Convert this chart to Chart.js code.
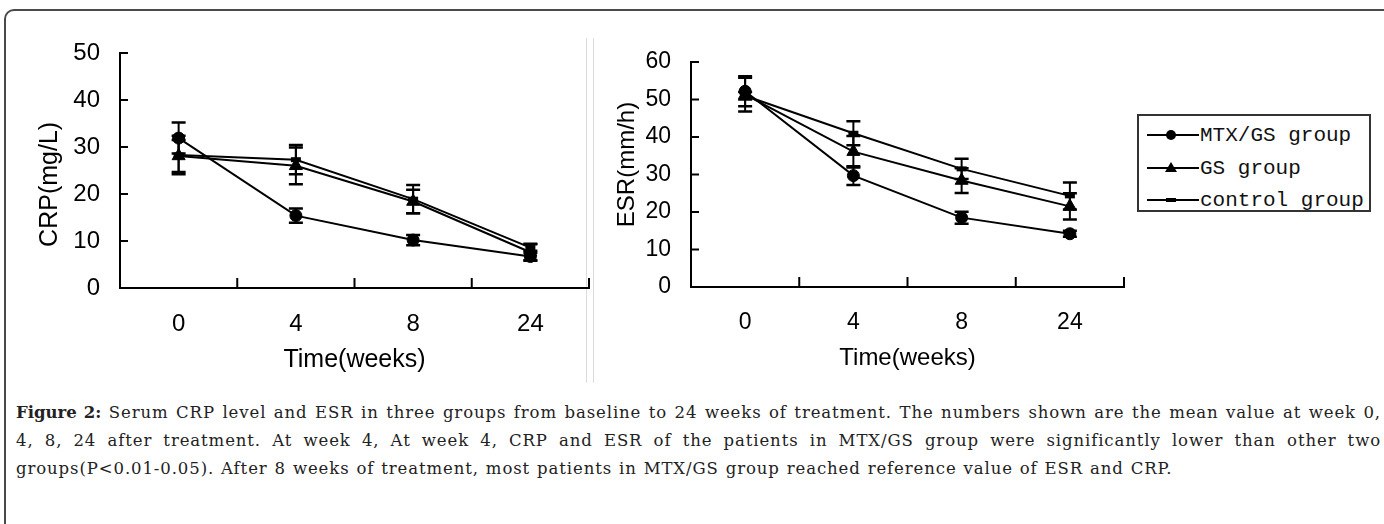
<!DOCTYPE html>
<html>
<head>
<meta charset="utf-8">
<script src="https://cdn.jsdelivr.net/npm/chart.js@4"></script>
<style>
  html, body { margin:0; padding:0; background:#fff; }
  body { width:1384px; height:524px; position:relative; overflow:hidden; }
  #frame { position:absolute; left:4px; top:9px; width:1392px; height:540px; border:2px solid #4a4a4a; border-radius:10px; box-sizing:border-box; }
  .divider { position:absolute; top:38px; height:345px; width:1px; background:#dcdcdc; }
  #c1 { position:absolute; left:0; top:0; }
  #c2 { position:absolute; left:594px; top:0; }
  #legend { position:absolute; left:1137px; top:114px; width:234px; height:98px; border:2px solid #333; box-sizing:border-box; background:#fff; }
  .lrow { position:absolute; left:8px; height:30px; display:flex; align-items:center; }
  .lrow svg { width:52px; height:20px; flex:none; }
  .lrow span { font-family:"Liberation Mono","DejaVu Sans Mono",monospace; font-size:21px; color:#111; margin-left:1px; white-space:pre; }
  #caption { position:absolute; left:16px; top:399px; width:1365px; font-family:"DejaVu Serif",serif; font-size:16.5px; letter-spacing:0.9px; word-spacing:0.8px; line-height:28px; text-align:justify; color:#222; }
  #caption b { font-weight:bold; letter-spacing:0; }
</style>
</head>
<body>
<div id="frame"></div>
<div class="divider" style="left:586px"></div>
<div class="divider" style="left:593px"></div>
<canvas id="c1" width="599" height="390"></canvas>
<canvas id="c2" width="540" height="390"></canvas>
<div id="legend">
  <div class="lrow" style="top:4px"><svg viewBox="0 0 52 20"><line x1="0" y1="10" x2="52" y2="10" stroke="#000" stroke-width="2"/><circle cx="24" cy="10" r="5" fill="#000"/></svg><span>MTX/GS group</span></div>
  <div class="lrow" style="top:37px"><svg viewBox="0 0 52 20"><line x1="0" y1="10" x2="52" y2="10" stroke="#000" stroke-width="2"/><polygon points="24,4 30,14 18,14" fill="#000"/></svg><span>GS group</span></div>
  <div class="lrow" style="top:69px"><svg viewBox="0 0 52 20"><line x1="0" y1="10" x2="52" y2="10" stroke="#000" stroke-width="2"/><rect x="19" y="8" width="10" height="4" fill="#000"/></svg><span>control group</span></div>
</div>
<div id="caption"><b>Figure 2:</b> Serum CRP level and ESR in three groups from baseline to 24 weeks of treatment. The numbers shown are the mean value at week 0, 4, 8, 24 after treatment. At week 4, At week 4, CRP and ESR of the patients in MTX/GS group were significantly lower than other two groups(P&lt;0.01-0.05). After 8 weeks of treatment, most patients in MTX/GS group reached reference value of ESR and CRP.</div>

<script>
// ---- Data ----
const weeks = ['0', '4', '8', '24'];
const seriesNames = ['MTX/GS group', 'GS group', 'control group'];

// CRP (mg/L)
const crpMtx     = [31.9, 15.4, 10.2, 6.7];
const crpMtxErr  = [3.3, 1.5, 1.1, 0.8];
const crpGs      = [28.1, 26.0, 18.4, 7.6];
const crpGsErr   = [3.4, 3.9, 2.5, 1.8];
const crpCtrl    = [28.3, 27.3, 18.9, 8.6];
const crpCtrlErr = [4.1, 3.1, 3.0, 0.7];

// ESR (mm/h)
const esrMtx     = [52.2, 29.7, 18.5, 14.2];
const esrMtxErr  = [4.0, 2.5, 1.6, 0.8];
const esrGs      = [51.3, 36.1, 28.4, 21.5];
const esrGsErr   = [4.5, 4.2, 3.3, 3.5];
const esrCtrl    = [51.0, 41.0, 31.5, 24.3];
const esrCtrlErr = [1.0, 3.2, 2.7, 3.6];

const crpTicks = [0, 10, 20, 30, 40, 50];
const esrTicks = [0, 10, 20, 30, 40, 50, 60];

// ---- Plugins ----
const decorPlugin = {
  id: 'decor',
  afterDatasetsDraw(chart) {
    const ctx = chart.ctx;
    const ys = chart.scales.y, xs = chart.scales.x;
    ctx.save();
    ctx.strokeStyle = '#000';
    // error bars
    chart.data.datasets.forEach((ds, i) => {
      const meta = chart.getDatasetMeta(i);
      ds.errors.forEach((e, j) => {
        const pt = meta.data[j];
        const x = pt.x;
        const yt = ys.getPixelForValue(ds.data[j] + e);
        const yb = ys.getPixelForValue(ds.data[j] - e);
        ctx.lineWidth = 2;
        ctx.beginPath(); ctx.moveTo(x, yt); ctx.lineTo(x, yb); ctx.stroke();
        ctx.lineWidth = 2.5;
        ctx.beginPath();
        ctx.moveTo(x - 7, yt); ctx.lineTo(x + 7, yt);
        ctx.moveTo(x - 7, yb); ctx.lineTo(x + 7, yb);
        ctx.stroke();
      });
    });
    // inward tick marks on y axis
    const area = chart.chartArea;
    ctx.lineWidth = 2;
    ys.ticks.forEach(t => {
      if (t.value === 0) return;
      const py = ys.getPixelForValue(t.value);
      ctx.beginPath(); ctx.moveTo(area.left, py); ctx.lineTo(area.left + 8, py); ctx.stroke();
    });
    // category boundary ticks on x axis
    for (let i = 0; i < chart.data.labels.length; i++) {
      const px = xs.getPixelForValue(i + 0.5);
      ctx.beginPath(); ctx.moveTo(px, area.bottom); ctx.lineTo(px, area.bottom - 10); ctx.stroke();
    }
    ctx.restore();
  }
};

function makeDatasets(vals, errs) {
  const styles = [
    { pointStyle: 'circle', pointRadius: 6, pointBorderWidth: 1 },
    { pointStyle: 'triangle', pointRadius: 7.5, pointBorderWidth: 1 },
    { pointStyle: 'line', pointRadius: 5, pointBorderWidth: 5 }
  ];
  return vals.map((v, i) => Object.assign({
    label: seriesNames[i],
    data: v,
    errors: errs[i],
    borderColor: '#000',
    backgroundColor: '#000',
    pointBackgroundColor: '#000',
    pointBorderColor: '#000',
    borderWidth: 2,
    tension: 0,
    fill: false
  }, styles[i]));
}

function makeChart(id, vals, errs, yMax, tickList, yTitle, cfg) {
  const font = 'Liberation Sans, Arial, sans-serif';
  return new Chart(document.getElementById(id), {
    type: 'line',
    data: { labels: weeks, datasets: makeDatasets(vals, errs) },
    options: {
      responsive: false,
      animation: false,
      events: [],
      layout: { padding: cfg.padding },
      plugins: { legend: { display: false }, tooltip: { enabled: false } },
      scales: {
        x: {
          offset: true,
          grid: { display: false, drawTicks: false },
          border: { display: true, color: '#000', width: 2 },
          ticks: { color: '#000', padding: cfg.xTickPad, font: { family: font, size: cfg.tickSize } },
          title: { display: true, text: 'Time(weeks)', color: '#000', font: { family: font, size: cfg.titleSize }, padding: { top: 0, bottom: cfg.xTitlePad } },
          afterFit: s => { s.height = 100; }
        },
        y: {
          min: 0, max: yMax,
          afterBuildTicks: s => { s.ticks = tickList.map(v => ({ value: v })); },
          grid: { display: false, drawTicks: false },
          border: { display: true, color: '#000', width: 2 },
          ticks: { color: '#000', padding: 20, font: { family: font, size: cfg.tickSize } },
          title: { display: true, text: yTitle, color: '#000', font: { family: font, size: cfg.titleSize }, padding: { top: cfg.yTitlePad, bottom: 0 } },
          afterFit: s => { s.width = cfg.yWidth; }
        }
      }
    },
    plugins: [decorPlugin]
  });
}

makeChart('c1',
  [crpMtx, crpGs, crpCtrl], [crpMtxErr, crpGsErr, crpCtrlErr],
  50, crpTicks, 'CRP(mg/L)    ',
  { padding: { left: 0, top: 53, right: 10, bottom: 2 }, yWidth: 120, tickSize: 24, titleSize: 25, xTickPad: 22, xTitlePad: 13, yTitlePad: 35 });

makeChart('c2',
  [esrMtx, esrGs, esrCtrl], [esrMtxErr, esrGsErr, esrCtrlErr],
  60, esrTicks, '   ESR(mm/h)',
  { padding: { left: 0, top: 62, right: 10, bottom: 3 }, yWidth: 97, tickSize: 23, titleSize: 24, xTickPad: 22, xTitlePad: 14, yTitlePad: 19 });
</script>
</body>
</html>
